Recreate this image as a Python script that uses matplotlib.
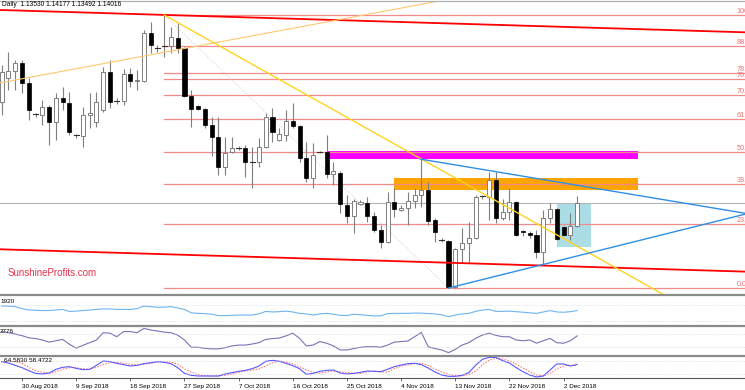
import matplotlib.pyplot as plt
import pandas as pd
from matplotlib.patches import Rectangle
from matplotlib.lines import Line2D

plt.rcParams['font.family'] = ['Liberation Sans', 'DejaVu Sans']

# daily bars incl. Sunday sessions (MT4 style), Aug 27 .. Dec 4 2018
dates = [d for d in pd.date_range('2018-08-27', '2018-12-04') if d.weekday() != 5]

opens = [1.1624, 1.1677, 1.1692, 1.1710, 1.1666, 1.1596, 1.1596, 1.1613, 1.1580, 1.1633,
         1.1622, 1.1550, 1.1550, 1.1596, 1.1580, 1.1607, 1.1690, 1.1626, 1.1626, 1.1686,
         1.1670, 1.1670, 1.1776, 1.1743, 1.1746, 1.1747, 1.1765, 1.1743, 1.1637, 1.1615,
         1.1609, 1.1574, 1.1547, 1.1482, 1.1515, 1.1523, 1.1523, 1.1493, 1.1493, 1.1525,
         1.1591, 1.1541, 1.1552, 1.1583, 1.1572, 1.1501, 1.1457, 1.1515, 1.1515, 1.1466,
         1.1468, 1.1398, 1.1374, 1.1400, 1.1403, 1.1374, 1.1343, 1.1317, 1.1405, 1.1387,
         1.1392, 1.1407, 1.1420, 1.1431, 1.1365, 1.1322, 1.1319, 1.1218, 1.1302, 1.1315,
         1.1326, 1.1416, 1.1416, 1.1453, 1.1370, 1.1383, 1.1405, 1.1341, 1.1337, 1.1332,
         1.1295, 1.1370, 1.1389, 1.1350, 1.1332, 1.13530]
highs = [1.1705, 1.1734, 1.1716, 1.1716, 1.1677, 1.1600, 1.1629, 1.1618, 1.1644, 1.1657,
         1.1646, 1.1554, 1.1613, 1.1644, 1.1646, 1.1701, 1.1716, 1.1633, 1.1697, 1.1699,
         1.1694, 1.1782, 1.1800, 1.1749, 1.1815, 1.1789, 1.1798, 1.1745, 1.1650, 1.1618,
         1.1611, 1.1591, 1.1591, 1.1547, 1.1547, 1.1528, 1.1530, 1.1525, 1.1545, 1.1600,
         1.1611, 1.1567, 1.1607, 1.1622, 1.1574, 1.1536, 1.1534, 1.1517, 1.1552, 1.1493,
         1.1473, 1.1420, 1.1411, 1.1409, 1.1416, 1.1383, 1.1354, 1.1427, 1.1436, 1.1398,
         1.1427, 1.1436, 1.1501, 1.1449, 1.1370, 1.1326, 1.1321, 1.1304, 1.1348, 1.1361,
         1.1420, 1.1420, 1.1471, 1.1471, 1.1411, 1.1436, 1.1407, 1.1343, 1.1341, 1.1343,
         1.1387, 1.1403, 1.1392, 1.1352, 1.1381, 1.14177]
lows = [1.1596, 1.1650, 1.1650, 1.1644, 1.1585, 1.1591, 1.1574, 1.1530, 1.1541, 1.1607,
        1.1552, 1.1545, 1.1525, 1.1567, 1.1569, 1.1602, 1.1611, 1.1620, 1.1618, 1.1657,
        1.1650, 1.1668, 1.1732, 1.1734, 1.1723, 1.1732, 1.1732, 1.1635, 1.1569, 1.1607,
        1.1567, 1.1506, 1.1464, 1.1464, 1.1512, 1.1519, 1.1460, 1.1436, 1.1482, 1.1523,
        1.1536, 1.1539, 1.1539, 1.1567, 1.1493, 1.1449, 1.1436, 1.1512, 1.1457, 1.1442,
        1.1381, 1.1359, 1.1337, 1.1398, 1.1361, 1.1339, 1.1304, 1.1315, 1.1372, 1.1385,
        1.1354, 1.1392, 1.1394, 1.1354, 1.1317, 1.1317, 1.1216, 1.1217, 1.1273, 1.1271,
        1.1324, 1.1411, 1.1365, 1.1359, 1.1365, 1.1365, 1.1330, 1.1330, 1.1326, 1.1282,
        1.1267, 1.1359, 1.1321, 1.1330, 1.1321, 1.13492]
closes = [1.1690, 1.1692, 1.1710, 1.1666, 1.1607, 1.1597, 1.1613, 1.1580, 1.1633, 1.1624,
          1.1558, 1.1551, 1.1596, 1.1600, 1.1624, 1.1690, 1.1624, 1.1627, 1.1686, 1.1670,
          1.1672, 1.1776, 1.1749, 1.1742, 1.1747, 1.1767, 1.1743, 1.1637, 1.1609, 1.1609,
          1.1574, 1.1547, 1.1482, 1.1512, 1.1523, 1.1524, 1.1493, 1.1492, 1.1525, 1.1591,
          1.1558, 1.1554, 1.1583, 1.1572, 1.1501, 1.1457, 1.1508, 1.1514, 1.1466, 1.1473,
          1.1400, 1.1374, 1.1407, 1.1405, 1.1374, 1.1343, 1.1317, 1.1405, 1.1389, 1.1392,
          1.1407, 1.1420, 1.1431, 1.1363, 1.1339, 1.1321, 1.1218, 1.1302, 1.1315, 1.1326,
          1.1416, 1.1417, 1.1453, 1.1370, 1.1383, 1.1405, 1.1332, 1.1339, 1.1332, 1.1295,
          1.1370, 1.1389, 1.1324, 1.1332, 1.1352, 1.14016]

# indicator panels (0-100 of each pane)
ind1 = [64, 64, 62, 55, 50, 49, 48, 48, 50, 52, 45, 46, 48, 50, 52, 54, 54, 52, 52, 52,
        55, 64, 62, 60, 60, 62, 57, 52, 40, 38, 37, 35, 30, 30, 31, 32, 32, 32, 36, 45,
        43, 44, 46, 43, 38, 36, 32, 36, 38, 35, 31, 30, 35, 33, 31, 29, 29, 37, 38, 38,
        38, 39, 39, 37, 36, 33, 26, 32, 36, 38, 45, 50, 52, 45, 45, 46, 44, 42, 40, 38,
        43, 48, 43, 42, 44, 48]
ind2 = [83, 79, 74, 68, 60, 57, 52, 44, 49, 54, 36, 22, 32, 42, 52, 79, 77, 64, 83, 83,
        79, 95, 89, 85, 81, 79, 70, 52, 25, 25, 21, 19, 19, 23, 30, 33, 33, 37, 42, 54,
        57, 59, 67, 77, 58, 30, 33, 46, 40, 30, 15, 15, 20, 25, 27, 27, 25, 33, 44, 46,
        48, 64, 80, 27, 20, 15, 5, 17, 33, 42, 58, 70, 77, 69, 64, 64, 52, 49, 52, 40,
        49, 58, 42, 40, 49, 67]
stoch_k = [77.8, 71.4, 60.3, 49.2, 34.9, 22.2, 19.0, 23.8, 41.3, 50.8, 54.0, 46.0, 39.7, 41.3,
           60.3, 81.0, 77.8, 69.8, 63.5, 57.1, 60.3, 68.3, 73.0, 77.8, 74.6, 68.3, 49.2, 22.2,
           12.7, 9.5, 9.5, 9.5, 9.5, 19.0, 25.4, 31.7, 36.5, 44.4, 57.1, 79.4, 84.1, 79.4,
           69.8, 58.7, 44.4, 17.5, 22.2, 31.7, 36.5, 38.1, 23.8, 19.0, 22.2, 27.0, 33.3, 31.7,
           30.2, 41.3, 54.0, 61.9, 68.3, 69.8, 63.5, 47.6, 28.6, 14.3, 7.9, 7.9, 12.7, 25.4,
           60.3, 88.9, 98.0, 98.0, 82.5, 71.4, 49.2, 30.2, 14.3, 4.8, 9.5, 38.1, 66.7, 66.7,
           57.1, 64.58]
stoch_d = [77.8, 79.0, 77.8, 69.8, 50.8, 34.9, 27.0, 22.2, 30.2, 41.3, 49.2, 49.2, 44.4, 41.3,
           50.8, 63.5, 73.0, 74.6, 69.8, 65.1, 61.9, 65.1, 69.8, 76.2, 77.8, 76.2, 65.1, 42.9,
           28.6, 15.9, 11.1, 9.5, 9.5, 12.7, 19.0, 27.0, 33.3, 38.1, 42.9, 57.1, 73.0, 81.0,
           76.2, 66.7, 54.0, 38.1, 27.0, 22.2, 28.6, 33.3, 30.2, 25.4, 22.2, 22.2, 28.6, 33.3,
           28.6, 28.6, 44.4, 55.6, 63.5, 68.3, 69.8, 60.3, 42.9, 28.6, 15.9, 11.1, 9.5, 15.9,
           33.3, 61.9, 85.7, 93.7, 90.5, 81.0, 66.7, 47.6, 30.2, 14.3, 9.5, 22.2, 44.4, 57.1,
           61.9, 58.47]

fib_high, fib_high_bar = 1.1815, 24
fib_low, fib_low_bar = 1.1216, 66
fib_levels = [0.0, 23.6, 38.2, 50.0, 61.8, 70.7, 76.4, 78.6, 88.6, 100.0]
last_price = 1.14016

# drawn objects: (bar, price) anchors
channel_top = [(-0.25, 1.1826), (109.8, 1.1777)]
channel_bottom = [(-0.25, 1.1301), (109.8, 1.1252)]
orange_trend = [(-0.25, 1.1666), (109.8, 1.1971)]
yellow_trend = [(24, 1.1815), (98.2, 1.1198)]
tri_upper = [(61.8, 1.1499), (109.8, 1.1380)]
tri_lower = [(66, 1.1216), (109.8, 1.1378)]
magenta_zone = (48.2, 94.0, 1.1498, 1.1516)
orange_zone = (57.9, 94.0, 1.1430, 1.1457)
blue_box = (82.0, 87.0, 1.1307, 1.1402)

W, H = 745, 390
xlim = (-0.25, 109.8)
fig = plt.figure(figsize=(W / 100, H / 100), dpi=100)
fig.patch.set_facecolor('white')


def pane(top_px, bot_px):
    a = fig.add_axes([0, (H - bot_px) / H, 1, (bot_px - top_px) / H])
    a.set_xlim(*xlim)
    for s in a.spines.values():
        s.set_visible(False)
    a.set_xticks([])
    a.set_yticks([])
    return a


ax = pane(1, 294)
ax.set_ylim(1.12029, 1.18457)
ax1 = pane(296, 324)
ax1.set_ylim(0, 100)
ax2 = pane(327, 354)
ax2.set_ylim(0, 100)
ax3 = pane(357, 378)
ax3.set_ylim(0, 100)

n = len(closes)
xs = list(range(n))

# zones
for (x0, x1, p0, p1), col in [(magenta_zone, '#ff00ff'), (orange_zone, '#ffa500'),
                              (blue_box, '#abdde6')]:
    ax.add_patch(Rectangle((x0, p0), x1 - x0, p1 - p0, color=col, lw=0, zorder=0.5))

# fibo
rng = fib_high - fib_low
for lv in fib_levels:
    p = fib_low + rng * lv / 100
    ax.plot([fib_high_bar, xlim[1]], [p, p], color='#f28a8a', lw=0.9, zorder=1)
    # labels sit at the right edge and run off it, as in the platform screenshot
    ax.text(108.6, p, f'{lv:.1f}', color='#ee7070', fontsize=5.2, va='bottom',
            ha='left', clip_on=False)
ax.plot([fib_high_bar, fib_low_bar], [fib_high, fib_low], color='#c0c0c0', lw=0.6,
        ls=(0, (1, 2)), zorder=1)
ax.axhline(last_price, color='#b4b4b4', lw=0.8, zorder=1)

# candles
ax.vlines(xs, lows, highs, color='#7f7f7f', lw=0.8, zorder=2)
for i in xs:
    o, c = opens[i], closes[i]
    if abs(c - o) < 0.00015:
        ax.plot([i - 0.35, i + 0.35], [c, c], color='#303030', lw=0.8, zorder=3)
    elif c > o:
        ax.bar(i, c - o, bottom=o, width=0.6, color='white', edgecolor='#7f7f7f',
               lw=0.7, zorder=3)
    else:
        ax.bar(i, o - c, bottom=c, width=0.6, color='black', edgecolor='black',
               lw=0.5, zorder=3)

# trend lines
for pts, col, lw in [(channel_top, '#ff0000', 1.3), (channel_bottom, '#ff0000', 1.3),
                     (orange_trend, '#ffc870', 0.8), (yellow_trend, '#ffd21e', 1.0),
                     (tri_upper, '#2f8fe8', 1.0), (tri_lower, '#2f8fe8', 1.0)]:
    ax.plot([p[0] for p in pts], [p[1] for p in pts], color=col, lw=lw, zorder=4)

ax.text(8 / W, (294 - 273) / 293, 'SunshineProfits.com', transform=ax.transAxes,
        color='#e5334d', fontsize=7, va='center', ha='left')
fig.text(2 / W, 1 - 5 / H, 'Daily  1.13530 1.14177 1.13492 1.14016', fontsize=4.8,
         va='center', ha='left')

# indicators
ax1.plot(xs, ind1, color='#6eb3f2', lw=0.8)
for lv in (68, 12):
    ax1.axhline(lv, color='#d0d0d0', lw=0.5, ls=':')
ax1.text(0, 0.82, '1920', transform=ax1.transAxes, fontsize=4.6, va='center')

ax2.plot(xs, ind2, color='#7c72b4', lw=0.8)
for lv in (73, 25):
    ax2.axhline(lv, color='#d0d0d0', lw=0.5, ls=':')
ax2.text(0, 0.83, '2776', transform=ax2.transAxes, fontsize=4.6, va='center')

ax3.plot(xs, stoch_d, color='#ff6060', lw=0.7, ls=(0, (1.5, 1.5)))
ax3.plot(xs, stoch_k, color='#5858ff', lw=0.8)
for lv in (80, 20):
    ax3.axhline(lv, color='#d0d0d0', lw=0.5, ls=':')
ax3.text(4 / W, 0.82, '64.5830 58.4722', transform=ax3.transAxes, fontsize=4.6,
         va='center')

# date axis
tick_idx = list(range(3, n, 8))
ax3.spines['bottom'].set_visible(True)
ax3.spines['bottom'].set_color('#555555')
ax3.spines['bottom'].set_linewidth(0.8)
ax3.set_xticks(tick_idx)
ax3.set_xticklabels([f'{dates[i].day} {dates[i]:%b %Y}' for i in tick_idx],
                    ha='left', fontsize=4.6)
ax3.tick_params(axis='x', length=2.5, width=0.6, color='#555555', pad=1.5)

# pane separators
for ypx, col, lw in [(1, '#b0b0b0', 0.9), (295.3, '#8a8a8a', 1.6),
                     (325.5, '#8a8a8a', 1.6), (355.5, '#8a8a8a', 1.6)]:
    fig.add_artist(Line2D([0, 1], [1 - ypx / H] * 2, transform=fig.transFigure,
                          color=col, lw=lw))

fig.savefig('out.png', dpi=100)
